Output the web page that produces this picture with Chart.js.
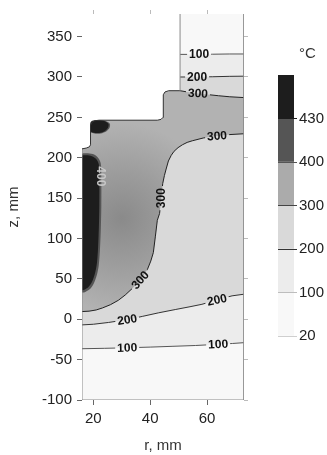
<!DOCTYPE html>
<html>
<head>
<meta charset="utf-8">
<script src="https://cdn.jsdelivr.net/npm/chart.js@4.4.0/dist/chart.umd.min.js"></script>
<style>
  body { margin: 0; background: #fff; }
  #wrap { position: relative; width: 327px; height: 455px; }
  #wrap canvas { position: absolute; left: 0; top: 0; }
  #unit { position: absolute; left: 299px; top: 45px; font: 15px "Liberation Sans", Arial, sans-serif; line-height: 15px; color: #333; }
</style>
</head>
<body>
<div id="wrap">
  <canvas id="field" width="327" height="455"></canvas>
  <canvas id="scale" width="327" height="455"></canvas>
  <div id="unit">°C</div>
</div>
<script>
// temperature bands, °C
const levels = [20, 100, 200, 300, 400, 430];
const bandColors = ['#f8f8f8', '#ececec', '#d9d9d9', '#ababab', '#555555', '#1d1d1d'];

// axis ticks, mm
const rTicks = [20, 40, 60];
const zTicks = [-100, -50, 0, 50, 100, 150, 200, 250, 300, 350];

// upper edge of the part, from the left axis to the shoulder
const edgeR = [16, 17.5, 18.6, 19, 19, 19.5, 20.5, 22, 42.5, 43.8, 44.5, 44.6, 45.2, 46.5, 50.5];
const edgeZ = [211, 212, 213.5, 216, 240, 244, 245.8, 246.5, 246.5, 247.5, 250, 278, 281.5, 283, 283];

// isotherms (r, z)
const c100R = [16, 24, 32, 40, 48, 56, 64, 69, 73];
const c100Z = [-36.5, -36, -35.3, -34.5, -33.5, -32.5, -31, -30, -29];
const c100TopR = [50.5, 56, 62, 68, 73];
const c100TopZ = [328, 328, 328.2, 328.5, 328.5];

const c200R = [16, 20, 25.3, 31.9, 37.2, 43, 48.8, 54, 58.2, 63.5, 68.8, 73];
const c200Z = [-7, -6.2, -4, -0.5, 3.5, 8, 12, 15.5, 18.5, 24, 29, 31];
const c200TopR = [50.5, 56, 62, 68, 73];
const c200TopZ = [300, 300, 300.3, 300.8, 301];

const c300R = [16, 18.5, 21, 23.2, 26, 28.8, 31.2, 33.8, 36.5, 39, 40.2, 41.1, 41.8, 42.5, 43.3, 43.9, 44.4, 45, 45.6, 46.4, 47.4, 48.4, 49.8, 51.3, 53, 54.8, 58.7, 63.5, 68, 73];
const c300Z = [9.5, 10, 11.5, 14, 18, 23.5, 30, 38.5, 48.5, 61.5, 72, 82.5, 102, 122.5, 131, 150, 168, 178, 186, 196, 203, 208, 212.5, 216, 219, 221, 224.5, 227, 228.7, 229.7];
const c300TopR = [50.5, 53, 56.8, 60, 64, 68, 73];
const c300TopZ = [283, 281.5, 279.6, 278.3, 276.8, 275.5, 274.5];

// hot core along the axis and near the corner
const c400R = [16, 16, 17.5, 19.8, 21.5, 22.6, 22.8, 22.8, 22.6, 22.3, 21.9, 21.2, 20.1, 18.7, 17, 16];
const c400Z = [33, 204.5, 205.5, 204.5, 200.5, 193, 175, 140, 110, 85, 67, 54.5, 44, 37, 33.5, 33];
const c430R = [16, 16, 17.5, 19.5, 21, 21.9, 22.1, 22.1, 21.9, 21.6, 21.2, 20.5, 19.5, 18.2, 16.8, 16];
const c430Z = [36, 202, 203, 202, 198.5, 192, 175, 140, 110, 85, 68, 56, 46, 39.5, 36.5, 36];
const spot400R = [19, 19, 19.6, 20.8, 22.5, 24.5, 25.8, 25.7, 24.6, 22.6, 20.8, 19.4, 19];
const spot400Z = [232, 243.5, 245.8, 246.5, 246.5, 245.3, 242, 237, 232.8, 230, 229.8, 230.8, 232];
const spot430R = [19, 19, 19.6, 20.8, 22.5, 24.2, 25.3, 25.2, 24.2, 22.5, 20.8, 19.5, 19];
const spot430Z = [233, 243, 245.3, 246, 246, 245, 242, 237.5, 233.5, 231, 230.7, 231.5, 233];

// isotherm labels
const labelText = ['100', '200', '300', '300', '300', '400', '300', '200', '200', '100', '100'];
const labelR = [57.2, 56.5, 56.8, 63.5, 43.9, 22.6, 36.5, 31.9, 63.5, 31.9, 63.9];
const labelZ = [328.1, 300.1, 279.6, 227, 150, 177, 48.5, -0.5, 24, -35.3, -31];
const labelAngle = [0, 0, 3, -4, -90, 90, -48, -9, -12, -2, -3];

const fontFamily = '"Liberation Sans", Arial, sans-serif';
const labelFont = 'bold 12px ' + fontFamily;

const pts = (rs, zs) => rs.map((r, i) => ({x: r, y: zs[i]}));
const ring = (list) => list.concat([list[0]]);
const edge = pts(edgeR, edgeZ);
const edgeBack = edge.slice().reverse();
const domain = ring([{x: 16, y: -100}].concat(edge, pts([50.5, 73, 73], [378, 378, -100])));

const area = (data, color, order, tension) => ({
    data: data, showLine: true, fill: 'shape', backgroundColor: color,
    borderWidth: 0, borderColor: 'transparent', pointRadius: 0, tension: tension || 0, order: order
});
const isoline = (rs, zs, color) => ({
    data: pts(rs, zs), showLine: true, fill: false, borderColor: color, borderWidth: 1,
    pointRadius: 0, order: 2, isContour: true
});

// the 300-400 band is darker in the middle of the part
const band300Shade = (ctx) => {
    const {chart} = ctx;
    if (!chart.chartArea) return bandColors[3];
    const cx = chart.scales.x.getPixelForValue(30), cy = chart.scales.y.getPixelForValue(125);
    const g = chart.ctx.createRadialGradient(cx, cy, 0, cx, cy, 95);
    g.addColorStop(0, '#8a8a8a');
    g.addColorStop(0.5, '#9d9d9d');
    g.addColorStop(1, '#b2b2b2');
    return g;
};

const datasets = [
    area(domain, bandColors[0], 10),
    area(ring(pts(c100R, c100Z).concat(pts(c100TopR, c100TopZ).reverse(), edgeBack)), bandColors[1], 9),
    area(ring(pts(c200R, c200Z).concat(pts(c200TopR, c200TopZ).reverse(), edgeBack)), bandColors[2], 8),
    area(ring(pts(c300R, c300Z).concat(pts(c300TopR, c300TopZ).reverse(), edgeBack)), band300Shade, 7),
    area(pts(c400R, c400Z), bandColors[4], 6, 0.3),
    area(pts(spot400R, spot400Z), bandColors[4], 6, 0.3),
    area(pts(c430R, c430Z), bandColors[5], 5, 0.3),
    area(pts(spot430R, spot430Z), bandColors[5], 5, 0.3),
    isoline(c100R, c100Z, '#555'),
    isoline(c100TopR, c100TopZ, '#555'),
    isoline(c200R, c200Z, '#333'),
    isoline(c200TopR, c200TopZ, '#333'),
    isoline(c300R, c300Z, '#222'),
    isoline(c300TopR, c300TopZ, '#222'),
    {
        // outline of the part; thin grey on the frame, dark on the free edge
        data: domain, showLine: true, fill: false, borderWidth: 1, pointRadius: 0, order: 1,
        borderColor: '#333',
        segment: {
            borderColor: (ctx) => {
                const a = ctx.p0.parsed, b = ctx.p1.parsed;
                if (a.y >= 377 && b.y >= 377) return 'transparent';
                if (a.y === -100 && b.y === -100) return '#8a8a8a';
                if (a.x === b.x && (a.x === 16 || a.x >= 50.5)) return '#8a8a8a';
                return '#333';
            }
        }
    }
];

// cut gaps into the isotherms where the labels sit, then write the labels
const labelBox = (ctx, px, py, w, h, a) => {
    const c = Math.cos(a), s = Math.sin(a);
    const corners = [[-w / 2, -h / 2], [-w / 2, h / 2], [w / 2, h / 2], [w / 2, -h / 2]];
    corners.forEach(([u, v], k) => {
        const X = px + u * c - v * s, Y = py + u * s + v * c;
        if (k === 0) ctx.moveTo(X, Y); else ctx.lineTo(X, Y);
    });
    ctx.closePath();
};

const isoLabels = {
    id: 'isoLabels',
    beforeDatasetDraw(chart, args) {
        if (!chart.data.datasets[args.index].isContour) return;
        const ctx = chart.ctx;
        const {x, y} = chart.scales;
        ctx.save();
        ctx.font = labelFont;
        ctx.beginPath();
        ctx.rect(0, 0, chart.width, chart.height);
        labelText.forEach((t, i) => {
            const w = ctx.measureText(t).width + 4;
            labelBox(ctx, x.getPixelForValue(labelR[i]), y.getPixelForValue(labelZ[i]), w, 11, labelAngle[i] * Math.PI / 180);
        });
        ctx.clip('evenodd');
    },
    afterDatasetDraw(chart, args) {
        if (chart.data.datasets[args.index].isContour) chart.ctx.restore();
    },
    afterDatasetsDraw(chart) {
        const ctx = chart.ctx;
        const {x, y} = chart.scales;
        ctx.save();
        ctx.font = labelFont;
        ctx.textAlign = 'center';
        ctx.textBaseline = 'middle';
        labelText.forEach((t, i) => {
            ctx.save();
            ctx.translate(x.getPixelForValue(labelR[i]), y.getPixelForValue(labelZ[i]));
            ctx.rotate(labelAngle[i] * Math.PI / 180);
            ctx.fillStyle = t === '400' ? '#c8c8c8' : '#111';
            ctx.fillText(t, 0, 0.5);
            ctx.restore();
        });
        ctx.restore();
    }
};

const tickFont = {family: fontFamily, size: 15};

new Chart(document.getElementById('field'), {
    type: 'scatter',
    data: {datasets: datasets},
    options: {
        responsive: false,
        animation: false,
        events: [],
        layout: {padding: 0},
        plugins: {legend: {display: false}, tooltip: {enabled: false}},
        scales: {
            x: {
                type: 'linear', position: 'bottom', min: 16, max: 73,
                afterBuildTicks: (s) => { s.ticks = rTicks.map(v => ({value: v})); },
                afterFit: (s) => { s.height = 55; },
                ticks: {font: tickFont, color: '#222', padding: 5},
                grid: {drawOnChartArea: false, tickLength: 5, color: '#666'},
                border: {display: false},
                title: {display: true, text: 'r, mm', font: tickFont, color: '#333', padding: 0}
            },
            x2: {
                type: 'linear', position: 'top', min: 16, max: 73,
                afterBuildTicks: (s) => { s.ticks = rTicks.map(v => ({value: v})); },
                afterFit: (s) => { s.height = 7; },
                ticks: {display: false},
                grid: {drawOnChartArea: false, tickLength: 4, color: '#bbb'},
                border: {display: false}
            },
            y: {
                type: 'linear', position: 'left', min: -100, max: 378,
                afterBuildTicks: (s) => { s.ticks = zTicks.map(v => ({value: v})); },
                afterFit: (s) => { s.width = 82; },
                ticks: {font: tickFont, color: '#222', padding: 5},
                grid: {drawOnChartArea: false, tickLength: 5, color: '#666'},
                border: {display: false},
                title: {display: true, text: 'z, mm', font: tickFont, color: '#333', padding: {top: 5, bottom: 0}}
            },
            y2: {
                type: 'linear', position: 'right', min: -100, max: 378,
                afterBuildTicks: (s) => { s.ticks = zTicks.map(v => ({value: v})); },
                afterFit: (s) => { s.width = 83; },
                ticks: {display: false},
                grid: {drawOnChartArea: false, tickLength: 4, color: '#bbb'},
                border: {display: false}
            }
        }
    },
    plugins: [isoLabels]
});

// colour scale: one stacked bar, one band per level
const boundaryColors = ['#cfcfcf', '#bdbdbd', '#333', '#444', '#555', '#1d1d1d'];

new Chart(document.getElementById('scale'), {
    type: 'bar',
    data: {
        labels: [''],
        datasets: bandColors.map(c => ({
            data: [1], backgroundColor: c, borderWidth: 0,
            barPercentage: 1, categoryPercentage: 1
        }))
    },
    options: {
        responsive: false,
        animation: false,
        events: [],
        layout: {padding: {left: 278, top: 75, bottom: 119, right: 0}},
        plugins: {legend: {display: false}, tooltip: {enabled: false}},
        scales: {
            x: {display: false, stacked: true},
            y: {
                stacked: true, position: 'right', min: 0, max: 6,
                afterBuildTicks: (s) => { s.ticks = levels.map((v, i) => ({value: i})); },
                afterFit: (s) => { s.width = 33; },
                ticks: {font: tickFont, color: '#222', padding: 2, callback: (v, i) => levels[i]},
                grid: {z: 1, tickLength: 3, color: (ctx) => boundaryColors[ctx.index] || '#333'},
                border: {display: false}
            }
        }
    }
});
</script>
</body>
</html>
